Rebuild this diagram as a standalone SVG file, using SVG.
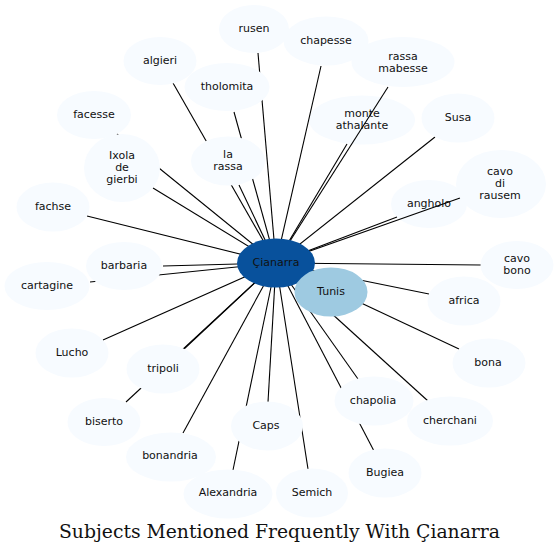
<svg xmlns="http://www.w3.org/2000/svg" width="559" height="554" viewBox="0 0 559 554">
<style>
.n{fill:#f7fbff;}
.t{font-family:"DejaVu Sans",sans-serif;font-size:11px;fill:#111;text-anchor:middle;}
.e{stroke:#000;stroke-width:1.1;fill:none;}
.title{font-family:"DejaVu Serif",serif;font-size:18px;fill:#111;text-anchor:middle;}
</style>
<rect width="559" height="554" fill="#fff"/>
<g id="node-monte-athalante"><ellipse class="n" cx="362" cy="120" rx="53" ry="24.5"/><text class="t" x="362" y="117">monte</text><text class="t" x="362" y="129">athalante</text></g>
<g id="node-angholo"><ellipse class="n" cx="429" cy="204" rx="38" ry="24"/><text class="t" x="429" y="207">angholo</text></g>
<g id="connectors" class="e">
<line x1="258" y1="53" x2="276" y2="263"/>
<line x1="321" y1="66" x2="276" y2="263"/>
<line x1="173" y1="83" x2="276" y2="263"/>
<line x1="234" y1="112" x2="276" y2="263"/>
<line x1="388" y1="87" x2="276" y2="263"/>
<line x1="347" y1="144" x2="276" y2="263"/>
<line x1="435" y1="137" x2="276" y2="263"/>
<line x1="117" y1="134" x2="276" y2="263"/>
<line x1="153" y1="188" x2="276" y2="263"/>
<line x1="239" y1="185" x2="276" y2="263"/>
<line x1="87" y1="216" x2="276" y2="263"/>
<line x1="163" y1="266" x2="276" y2="263"/>
<line x1="90" y1="282" x2="276" y2="263"/>
<line x1="103" y1="340" x2="276" y2="263"/>
<line x1="184" y1="349" x2="276" y2="263"/>
<line x1="126" y1="402" x2="276" y2="263"/>
<line x1="183" y1="433" x2="276" y2="263"/>
<line x1="233" y1="470" x2="276" y2="263"/>
<line x1="268" y1="402" x2="276" y2="263"/>
<line x1="308" y1="469" x2="276" y2="263"/>
<line x1="374" y1="451" x2="276" y2="263"/>
<line x1="358" y1="379" x2="276" y2="263"/>
<line x1="428" y1="401" x2="276" y2="263"/>
<line x1="459" y1="349" x2="276" y2="263"/>
<line x1="429" y1="294" x2="276" y2="263"/>
<line x1="481" y1="265" x2="276" y2="263"/>
<line x1="460" y1="198" x2="276" y2="263"/>
<line x1="397" y1="217" x2="276" y2="263"/>
</g>
<g id="node-rusen"><ellipse class="n" cx="254" cy="29" rx="35" ry="24"/><text class="t" x="254" y="32">rusen</text></g>
<g id="node-chapesse"><ellipse class="n" cx="326" cy="41" rx="42.5" ry="24.5"/><text class="t" x="326" y="44">chapesse</text></g>
<g id="node-algieri"><ellipse class="n" cx="160" cy="61" rx="36.5" ry="24"/><text class="t" x="160" y="64">algieri</text></g>
<g id="node-tholomita"><ellipse class="n" cx="227" cy="87" rx="42.5" ry="24"/><text class="t" x="227" y="90">tholomita</text></g>
<g id="node-rassa-mabesse"><ellipse class="n" cx="403" cy="62" rx="51.5" ry="25"/><text class="t" x="403" y="60">rassa</text><text class="t" x="403" y="72">mabesse</text></g>
<g id="node-susa"><ellipse class="n" cx="458" cy="118" rx="36.5" ry="24.5"/><text class="t" x="458" y="121">Susa</text></g>
<g id="node-facesse"><ellipse class="n" cx="94" cy="115" rx="37" ry="24"/><text class="t" x="94" y="118">facesse</text></g>
<g id="node-ixola"><ellipse class="n" cx="122" cy="168" rx="38" ry="34"/><text class="t" x="122" y="159">Ixola</text><text class="t" x="122" y="171">de</text><text class="t" x="122" y="183">gierbi</text></g>
<g id="node-la-rassa"><ellipse class="n" cx="228" cy="161" rx="37" ry="24.5"/><text class="t" x="228" y="158">la</text><text class="t" x="228" y="170">rassa</text></g>
<g id="node-fachse"><ellipse class="n" cx="53" cy="207" rx="36.5" ry="24.5"/><text class="t" x="53" y="210">fachse</text></g>
<g id="node-barbaria"><ellipse class="n" cx="124" cy="266" rx="38" ry="24"/><text class="t" x="124" y="269">barbaria</text></g>
<g id="node-cartagine"><ellipse class="n" cx="47" cy="286" rx="42.5" ry="24"/><text class="t" x="47" y="289">cartagine</text></g>
<g id="node-cavo-di-rausem"><ellipse class="n" cx="501" cy="184" rx="45" ry="34"/><text class="t" x="500" y="175">cavo</text><text class="t" x="500" y="187">di</text><text class="t" x="500" y="199">rausem</text></g>
<g id="node-cavo-bono"><ellipse class="n" cx="517" cy="265" rx="36.5" ry="24"/><text class="t" x="517" y="262">cavo</text><text class="t" x="517" y="274">bono</text></g>
<g id="node-africa"><ellipse class="n" cx="464" cy="301" rx="36.5" ry="24.5"/><text class="t" x="464" y="304">africa</text></g>
<g id="node-bona"><ellipse class="n" cx="489" cy="363" rx="36.5" ry="24.5"/><text class="t" x="488" y="366">bona</text></g>
<g id="node-chapolia"><ellipse class="n" cx="374" cy="401" rx="39.5" ry="24.5"/><text class="t" x="373" y="404">chapolia</text></g>
<g id="node-cherchani"><ellipse class="n" cx="450" cy="421" rx="43" ry="24.5"/><text class="t" x="450" y="424">cherchani</text></g>
<g id="node-bugiea"><ellipse class="n" cx="385" cy="473" rx="36.5" ry="24.5"/><text class="t" x="385" y="476">Bugiea</text></g>
<g id="node-semich"><ellipse class="n" cx="312" cy="493" rx="36" ry="24.5"/><text class="t" x="312" y="496">Semich</text></g>
<g id="node-caps"><ellipse class="n" cx="267" cy="426" rx="36" ry="24.5"/><text class="t" x="266" y="429">Caps</text></g>
<g id="node-alexandria"><ellipse class="n" cx="228" cy="494" rx="44.5" ry="24.5"/><text class="t" x="228" y="496">Alexandria</text></g>
<g id="node-bonandria"><ellipse class="n" cx="171" cy="457" rx="45" ry="24.5"/><text class="t" x="170" y="459">bonandria</text></g>
<g id="node-biserto"><ellipse class="n" cx="104" cy="422" rx="36.5" ry="24"/><text class="t" x="104" y="425">biserto</text></g>
<g id="node-tripoli"><ellipse class="n" cx="163" cy="369" rx="36.5" ry="24.5"/><text class="t" x="163" y="372">tripoli</text></g>
<g id="node-lucho"><ellipse class="n" cx="72" cy="353" rx="36.5" ry="24.5"/><text class="t" x="72" y="356">Lucho</text></g>
<g id="node-cianarra"><ellipse cx="276" cy="263" rx="39" ry="24.5" fill="#08519c"/><text class="t" x="276" y="266">Çianarra</text></g>
<g id="node-tunis"><ellipse cx="331" cy="292" rx="36.5" ry="24.5" fill="#9ecae1"/><text class="t" x="331" y="295">Tunis</text></g>
<text class="title" x="279.5" y="538" textLength="441" lengthAdjust="spacingAndGlyphs">Subjects Mentioned Frequently With Çianarra</text>
</svg>
